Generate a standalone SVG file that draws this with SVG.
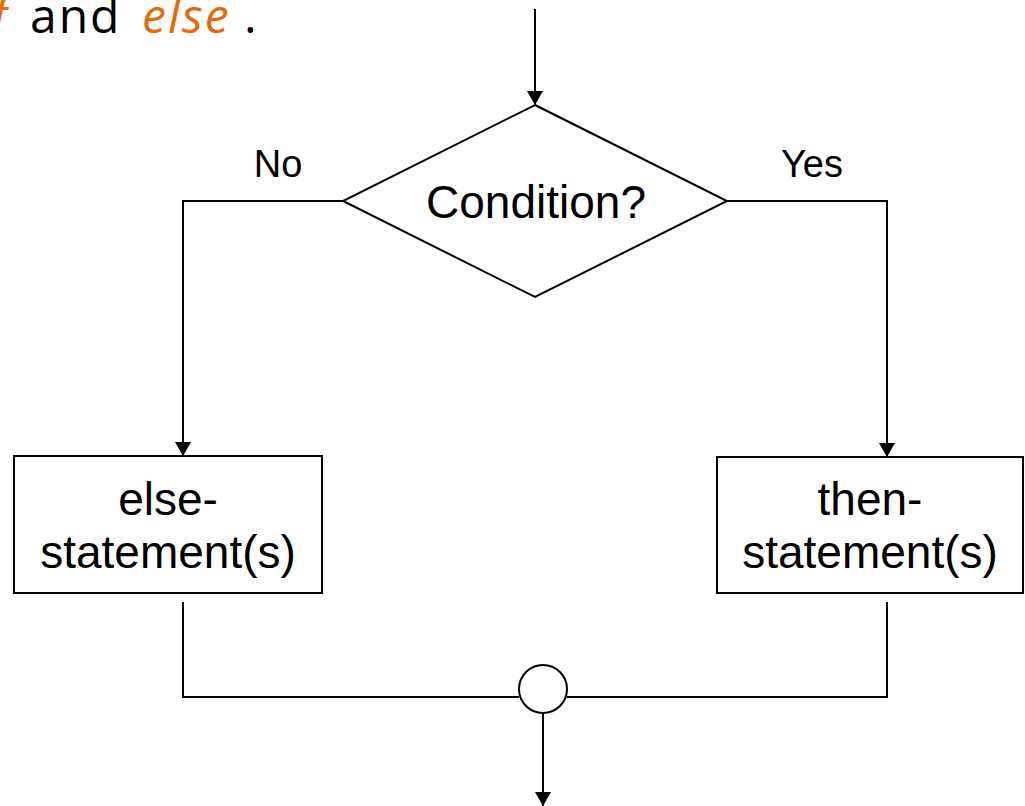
<svg xmlns="http://www.w3.org/2000/svg" width="1025" height="806" viewBox="0 0 1025 806">
  <style>
    .ln { fill: none; stroke: #000; stroke-width: 2; }
    .shape { fill: #fff; stroke: #000; stroke-width: 2; }
    .lbl { font-family: "Liberation Sans", Arial, sans-serif; fill: #000; text-anchor: middle; }
    .big { font-size: 46px; }
    .small { font-size: 38px; }
    .caption { font-family: "Open Sans", "Liberation Sans", sans-serif; font-size: 48px; fill: #000; letter-spacing: 2px; }
    .kw { fill: #e36c0a; font-style: italic; }
  </style>
  <defs>
    <marker id="arrow" viewBox="0 0 14 16" refX="14" refY="8" markerWidth="14" markerHeight="16" markerUnits="userSpaceOnUse" orient="auto">
      <path d="M0,0 L14,8 L0,16 Z" fill="#000"/>
    </marker>
  </defs>
  <rect width="1025" height="806" fill="#fff"/>

  <!-- caption line fragment at the top -->
  <g id="caption">
    <text class="caption kw" x="-8" y="33">f</text>
    <text class="caption" x="30" y="33">and</text>
    <text class="caption kw" x="142" y="33">else</text>
    <text class="caption" x="244" y="33">.</text>
  </g>

  <g id="connectors">
    <line class="ln" x1="535" y1="9" x2="535" y2="105" marker-end="url(#arrow)"/>
    <polyline class="ln" points="343,201 183,201 183,456" marker-end="url(#arrow)"/>
    <polyline class="ln" points="727,201 887,201 887,457" marker-end="url(#arrow)"/>
    <polyline class="ln" points="183,602 183,697 519,697"/>
    <polyline class="ln" points="887,602 887,697 567,697"/>
    <line class="ln" x1="543" y1="713" x2="543" y2="806" marker-end="url(#arrow)"/>
  </g>

  <g id="decision">
    <polygon class="shape" points="535,105 727,201 535,297 343,201"/>
    <text class="lbl big" x="536" y="218">Condition?</text>
  </g>

  <g id="label-no">
    <text class="lbl small" x="278" y="177">No</text>
  </g>
  <g id="label-yes">
    <text class="lbl small" x="812" y="177">Yes</text>
  </g>

  <g id="else-box">
    <rect class="shape" x="14" y="456" width="308" height="137"/>
    <text class="lbl big" x="168" y="515">else-</text>
    <text class="lbl big" x="168" y="568">statement(s)</text>
  </g>

  <g id="then-box">
    <rect class="shape" x="717" y="457" width="306" height="136"/>
    <text class="lbl big" x="870" y="515">then-</text>
    <text class="lbl big" x="870" y="568">statement(s)</text>
  </g>

  <g id="merge">
    <circle class="shape" cx="543" cy="689" r="24"/>
  </g>
</svg>
